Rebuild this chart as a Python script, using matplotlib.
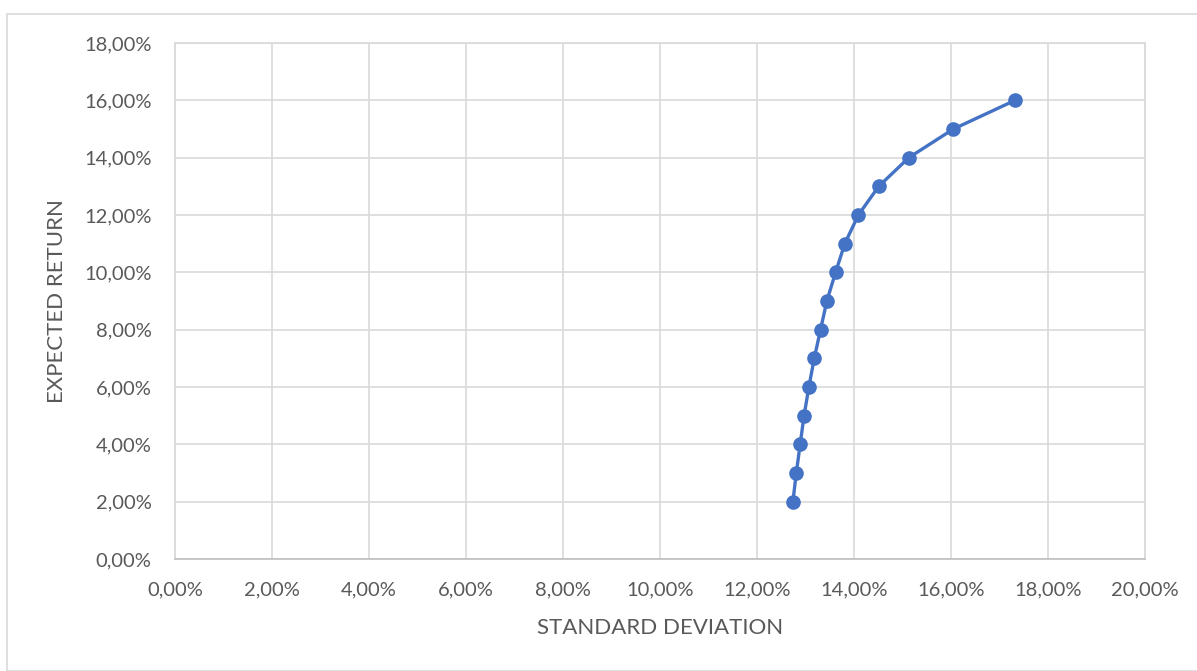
import matplotlib
matplotlib.use("Agg")
import matplotlib.pyplot as plt
from matplotlib.patches import Rectangle
from matplotlib.ticker import FuncFormatter, MultipleLocator

# standard deviation (%) and expected return (%) of each portfolio
std_dev = [12.74, 12.81, 12.89, 12.97, 13.07, 13.18, 13.31, 13.44, 13.62,
           13.81, 14.09, 14.51, 15.13, 16.05, 17.32]
exp_ret = [2, 3, 4, 5, 6, 7, 8, 9, 10, 11, 12, 13, 14, 15, 16]

plt.rcParams['font.family'] = ['Lato', 'DejaVu Sans']

fig = plt.figure(figsize=(11.97, 6.71), dpi=100)
fig.patches.append(Rectangle((7 / 1197, 0), 1.2, 1 - 14 / 671, transform=fig.transFigure,
                             fill=False, edgecolor='#D9D9D9', linewidth=1.2))
ax = fig.add_axes([175 / 1197, 1 - 559 / 671, 970 / 1197, 516 / 671])

ax.plot(std_dev, exp_ret, color='#4472C4', linewidth=2.4, marker='o',
        markersize=9.5, zorder=3)

ax.set_xlim(0, 20)
ax.set_ylim(0, 18)
ax.xaxis.set_major_locator(MultipleLocator(2))
ax.yaxis.set_major_locator(MultipleLocator(2))
pct = FuncFormatter(lambda v, p: f"{v:.2f}%".replace('.', ','))
ax.xaxis.set_major_formatter(pct)
ax.yaxis.set_major_formatter(pct)

ax.grid(True, color='#D9D9D9', linewidth=1.2)
ax.set_axisbelow(True)
for s in ax.spines.values():
    s.set_color('#D9D9D9')
    s.set_linewidth(1.2)
ax.spines['bottom'].set_color('#BFBFBF')
ax.tick_params(length=0, labelsize=14.5, labelcolor='#595959')
ax.tick_params(axis='x', pad=16)
ax.tick_params(axis='y', pad=17)

ax.set_xlabel('STANDARD DEVIATION', fontsize=16, color='#595959', labelpad=14)
ax.set_ylabel('EXPECTED RETURN', fontsize=16, color='#595959', labelpad=12)

fig.savefig('out.png', dpi=100)
